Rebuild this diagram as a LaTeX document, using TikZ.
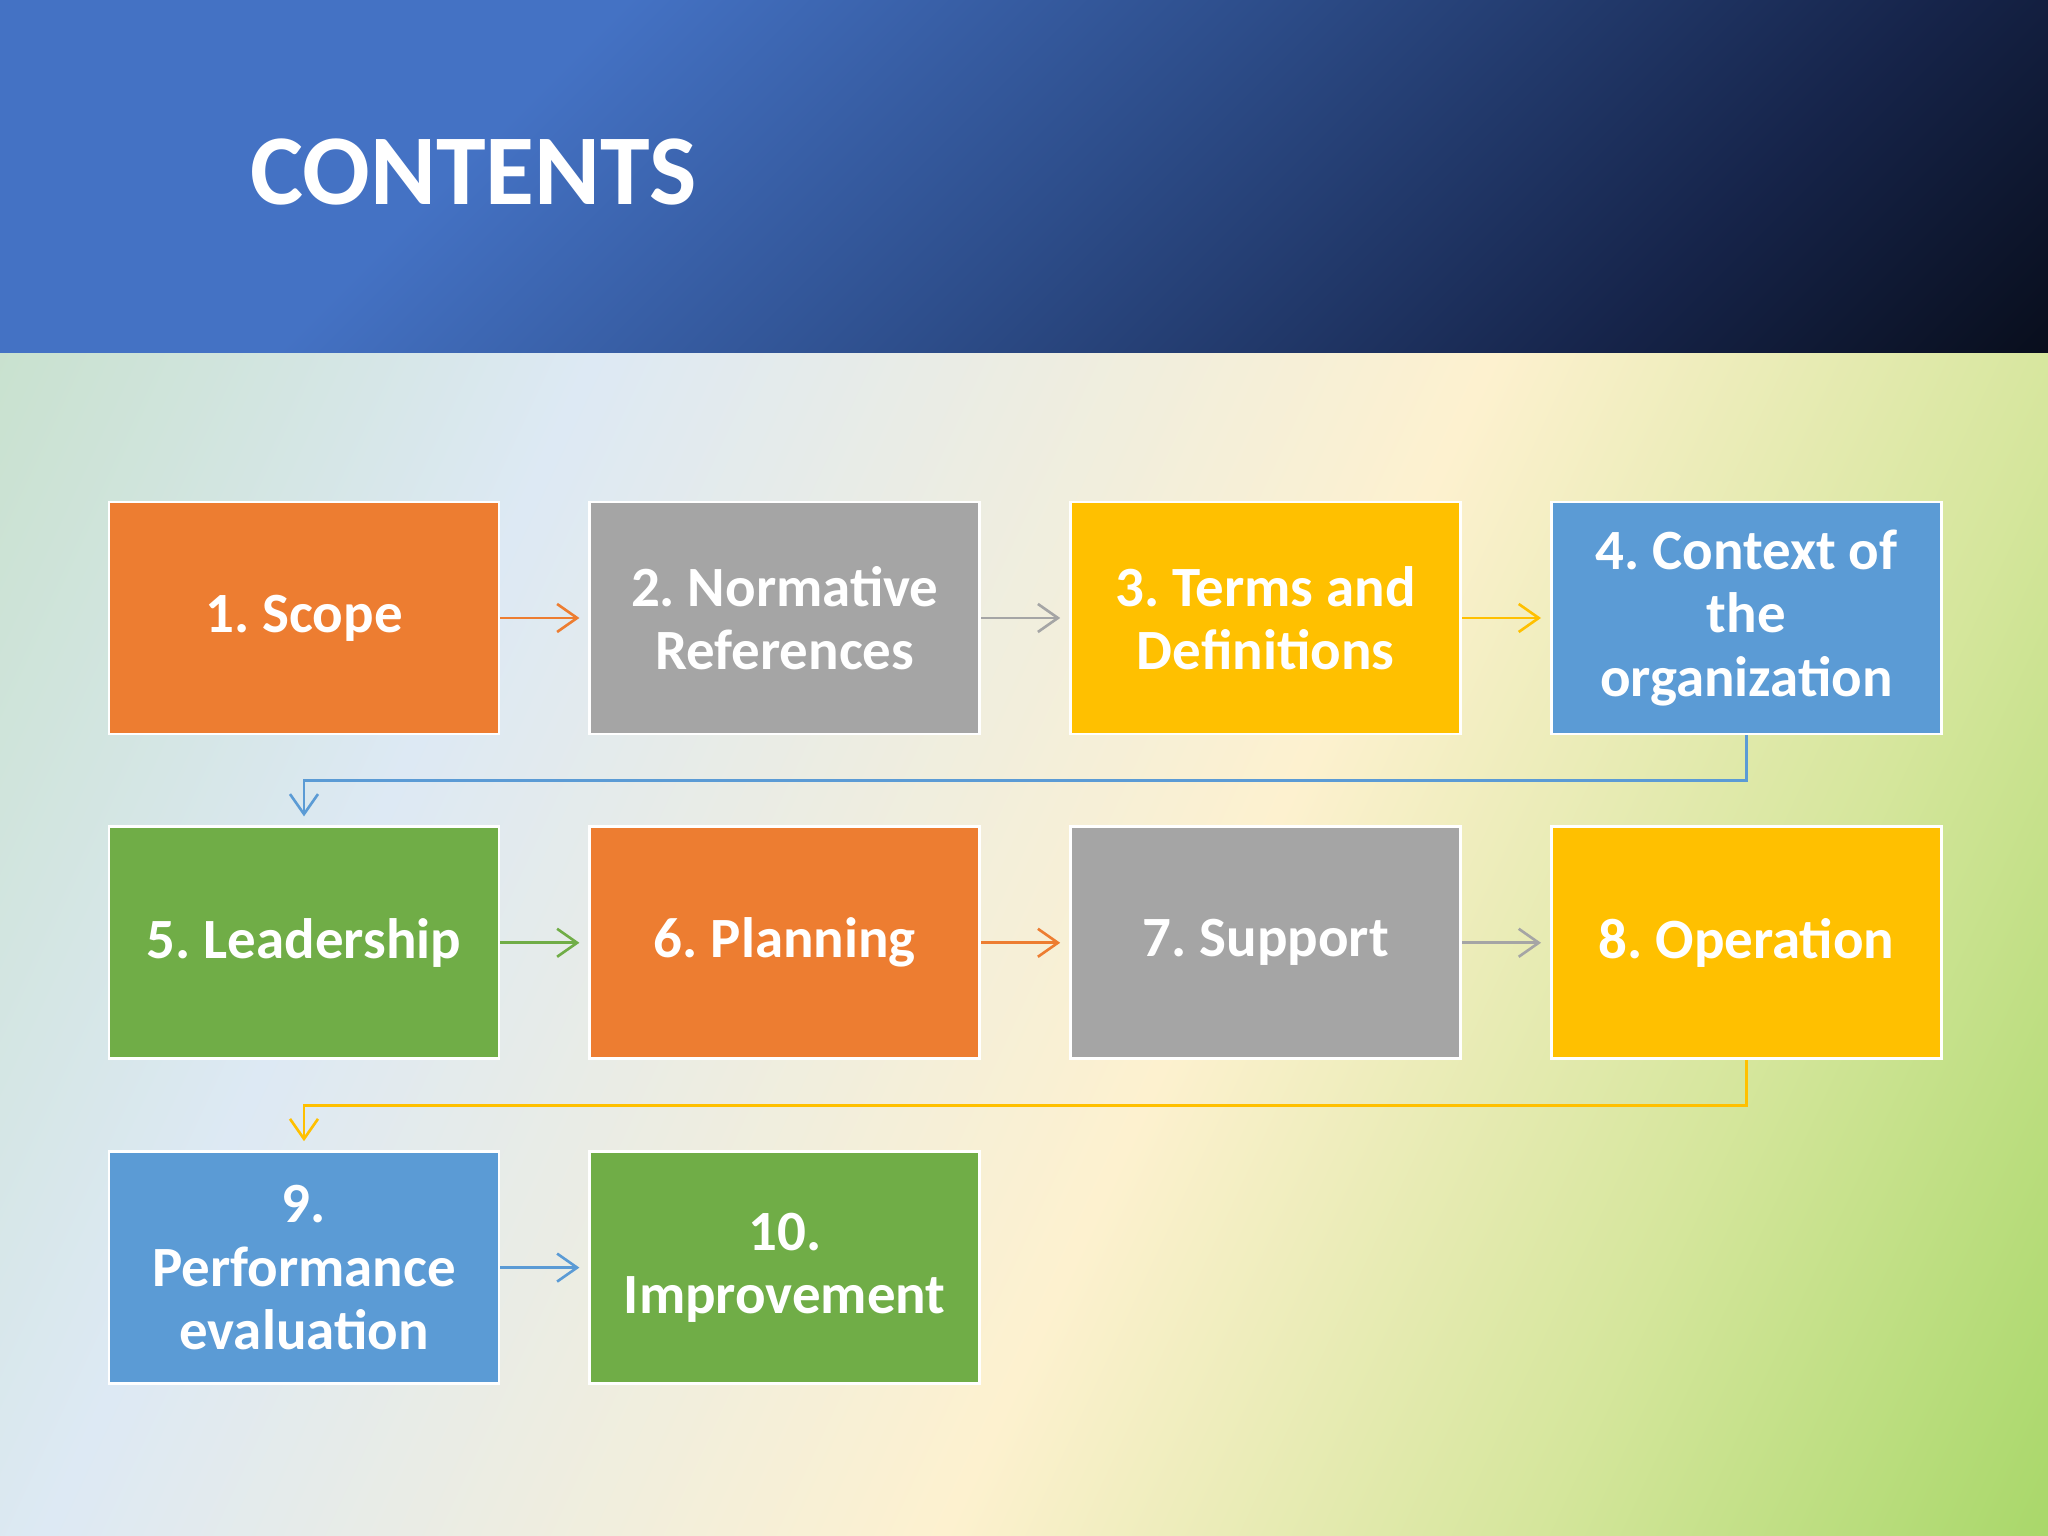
\documentclass[tikz,border=0pt]{standalone}
\usepackage{fontspec}
\setmainfont{Carlito}
\usetikzlibrary{positioning,calc,arrows.meta}

\definecolor{hdrblue}{HTML}{4472C4}
\definecolor{hdrmid}{HTML}{2D4D8A}
\definecolor{hdrdark}{HTML}{16244A}
\definecolor{bgA}{HTML}{B5D89F}
\definecolor{bgAB}{HTML}{C5E0C8}
\definecolor{bgB}{HTML}{DDE9F4}
\definecolor{bgC}{HTML}{FDF1CF}
\definecolor{bgD}{HTML}{D5E69C}
\definecolor{bgE}{HTML}{92D050}
\definecolor{itorange}{HTML}{ED7D31}
\definecolor{itgray}{HTML}{A5A5A5}
\definecolor{ityellow}{HTML}{FFC000}
\definecolor{itblue}{HTML}{5B9BD5}
\definecolor{itgreen}{HTML}{70AD47}

\pgfdeclarehorizontalshading{headshade}{100bp}{color(0bp)=(hdrblue); color(33bp)=(hdrblue); color(52bp)=(hdrmid); color(72bp)=(hdrdark); color(94bp)=(black); color(100bp)=(black)}
\pgfdeclarehorizontalshading{bodyshade}{100bp}{color(0bp)=(bgA); color(14bp)=(bgAB); color(32bp)=(bgB); color(55bp)=(bgC); color(70bp)=(bgD); color(90bp)=(bgE); color(100bp)=(bgE)}

\begin{document}
\frenchspacing
\begin{tikzpicture}[>={Straight Barb[length=2mm,width=2.8mm]},
    item/.style={rectangle,draw=white,line width=0.8pt,minimum width=3.9cm,minimum height=2.32cm,
        inner sep=0pt,align=center,text=white,font=\bfseries\fontsize{16.2}{18}\selectfont},
    link/.style={->,line width=0.75pt,shorten >=0.09cm},
    node distance=0.9cm and 0.88cm]
    \useasboundingbox (0,0) rectangle (20.48,15.36);

    % background and title band
    \shade[shading=bodyshade,shading angle=-25] (0,0) rectangle (20.48,11.833);
    \shade[shading=headshade,shading angle=-45] (0,11.833) rectangle (20.48,15.36);
    \node[text=white,font=\bfseries\fontsize{28.5}{34}\selectfont] (title) at (4.735,13.64) {CONTENTS};

    % clauses
    \node[item,fill=itorange] (n1) at (3.04,9.18) {1. Scope};
    \node[item,fill=itgray,right=of n1] (n2) {2. Normative\\References};
    \node[item,fill=ityellow,right=of n2] (n3) {3. Terms and\\Definitions};
    \node[item,fill=itblue,right=of n3] (n4) {4. Context of\\the\\organization};

    \node[item,fill=itgreen,below=of n1] (n5) {5. Leadership};
    \node[item,fill=itorange,right=of n5] (n6) {6. Planning};
    \node[item,fill=itgray,right=of n6] (n7) {7. Support};
    \node[item,fill=ityellow,right=of n7] (n8) {8. Operation};

    \node[item,fill=itblue,below=of n5] (n9) {9.\\Performance\\evaluation};
    \node[item,fill=itgreen,right=of n9] (n10) {10.\\Improvement};

    \foreach \a/\b/\c in {n1/n2/itorange,n2/n3/itgray,n3/n4/ityellow,n5/n6/itgreen,
        n6/n7/itorange,n7/n8/itgray,n9/n10/itblue}
        \draw[link,\c] (\a) -- (\b);

    \coordinate (turn1) at ($(n4.south)!0.5!(n8.north)$);
    \coordinate (turn2) at ($(n8.south)!0.5!(n8.south |- n9.north)$);
    \draw[link,itblue] (n4.south) -- (turn1) -| (n5.north);
    \draw[link,ityellow] (n8.south) -- (turn2) -| (n9.north);
\end{tikzpicture}
\end{document}
